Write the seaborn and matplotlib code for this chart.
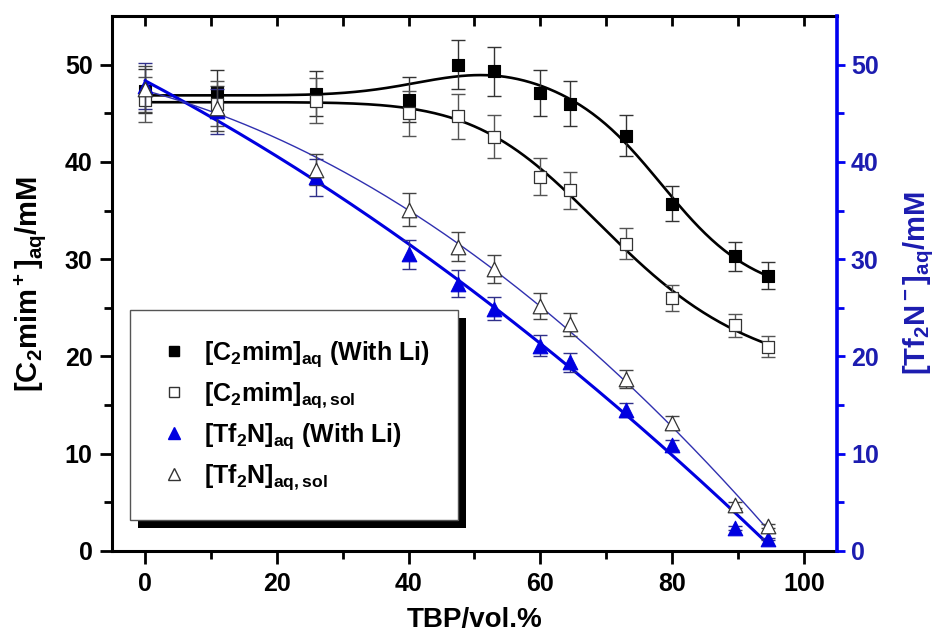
import numpy as np
import matplotlib
matplotlib.use("Agg")
import matplotlib.pyplot as plt
import seaborn as sns
from matplotlib.patches import Rectangle
from matplotlib.lines import Line2D

# ---------------- data ----------------
tbp = [0, 11, 26, 40, 47.5, 53, 60, 64.5, 73, 80, 89.5, 94.5]

c2mim_li = [47.3, 47.1, 47.0, 46.4, 50.0, 49.3, 47.1, 46.0, 42.7, 35.7, 30.3, 28.3]
c2mim_li_err = [2.3, 2.3, 2.3, 2.3, 2.5, 2.5, 2.4, 2.3, 2.1, 1.8, 1.5, 1.4]

c2mim_sol = [46.4, 46.0, 46.3, 45.0, 44.7, 42.6, 38.5, 37.1, 31.6, 26.0, 23.2, 21.0]
c2mim_sol_err = [2.3, 2.3, 2.3, 2.3, 2.3, 2.2, 1.9, 1.9, 1.6, 1.3, 1.2, 1.1]

tf2n_li = [47.8, 45.2, 38.4, 30.5, 27.5, 24.9, 21.1, 19.4, 14.5, 10.9, 2.4, 1.2]
tf2n_li_err = [2.4, 2.3, 1.9, 1.5, 1.4, 1.2, 1.1, 1.0, 0.7, 0.5, 0.2, 0.1]

tf2n_sol = [47.5, 45.5, 39.2, 35.1, 31.3, 29.0, 25.2, 23.3, 17.7, 13.2, 4.7, 2.6]
tf2n_sol_err = [2.4, 2.3, 1.6, 1.7, 1.5, 1.4, 1.3, 1.2, 0.9, 0.7, 0.3, 0.2]

labels = [r'[C$_2$mim]$_{aq}$ (With Li)', r'[C$_2$mim]$_{aq,sol}$',
          r'[Tf$_2$N]$_{aq}$ (With Li)', r'[Tf$_2$N]$_{aq,sol}$']
xlabel = 'TBP/vol.%'
ylabel_left = r'[C$_2$mim$^+$]$_{aq}$/mM'
ylabel_right = r'[Tf$_2$N$^-$]$_{aq}$/mM'

# ---------------- style ----------------
sns.set_style("ticks")
plt.rcParams['font.family'] = ['Liberation Sans', 'DejaVu Sans']
plt.rcParams['font.weight'] = 'bold'
plt.rcParams['mathtext.fontset'] = 'custom'
plt.rcParams['mathtext.rm'] = 'Liberation Sans:bold'
plt.rcParams['mathtext.it'] = 'Liberation Sans:bold'
plt.rcParams['mathtext.bf'] = 'Liberation Sans:bold'
plt.rcParams['mathtext.sf'] = 'Liberation Sans:bold'
plt.rcParams['text.color'] = 'black'
plt.rcParams['axes.labelcolor'] = 'black'
plt.rcParams['xtick.color'] = 'black'
plt.rcParams['ytick.color'] = 'black'
plt.rcParams['axes.edgecolor'] = 'black'

BLUE = '#0000e0'
SPINE_BLUE = '#0000f0'
TEXT_BLUE = '#1c1cb0'
THIN_BLUE = '#3030b0'

fig = plt.figure(figsize=(9.45, 6.42), dpi=100)
ax = fig.add_axes([112/945, 1-551/642, (837-112)/945, (551-16)/642])
ax2 = ax.twinx()

x = np.array(tbp, dtype=float)
xs = np.linspace(0, 94.5, 300)

# ---------------- fitted curves (least squares on the data) ----------------
def sigmoid_bump_fit(xd, yd, bump):
    yd = np.asarray(yd, float)
    x0s = np.linspace(55, 92, 38)
    ps = np.linspace(3, 16, 27)
    if bump:
        mus = np.linspace(46, 58, 7)
        ss = np.linspace(15, 24, 4)
    else:
        mus = np.array([50.0]); ss = np.array([10.0])
    X0, P, MU, S = np.meshgrid(x0s, ps, mus, ss, indexing='ij')
    X0, P, MU, S = X0.ravel(), P.ravel(), MU.ravel(), S.ravel()
    g = 1.0/(1.0+(xd[None, :]/X0[:, None])**P[:, None])
    cols = [g, 1-g]
    if bump:
        cols.append(np.exp(-((xd[None, :]-MU[:, None])/S[:, None])**2))
    A = np.stack(cols, axis=2)
    AtA = np.einsum('nik,nil->nkl', A, A) + 1e-9*np.eye(A.shape[2])
    Aty = np.einsum('nik,i->nk', A, yd)
    coef = np.linalg.solve(AtA, Aty[..., None])[..., 0]
    res = np.sum((np.einsum('nik,nk->ni', A, coef)-yd)**2, axis=1)
    k = np.argmin(res)
    c, x0, p, mu, s = coef[k], X0[k], P[k], MU[k], S[k]
    def f(t):
        gg = 1.0/(1.0+(t/x0)**p)
        out = c[0]*gg + c[1]*(1-gg)
        if bump:
            out = out + c[2]*np.exp(-((t-mu)/s)**2)
        return out
    return f

f_li = sigmoid_bump_fit(x, c2mim_li, True)
f_sol = sigmoid_bump_fit(x, c2mim_sol, False)
c_tli = np.polyfit(x, tf2n_li, 2)
c_tsol = np.polyfit(x, tf2n_sol, 2)

sns.lineplot(x=xs, y=f_li(xs), ax=ax, color='black', linewidth=1.9, sort=False, estimator=None, zorder=2)
sns.lineplot(x=xs, y=f_sol(xs), ax=ax, color='black', linewidth=1.9, sort=False, estimator=None, zorder=2)
sns.lineplot(x=xs, y=np.polyval(c_tli, xs), ax=ax2, color=BLUE, linewidth=2.2, sort=False, estimator=None, zorder=2)
sns.lineplot(x=xs, y=np.polyval(c_tsol, xs), ax=ax2, color=THIN_BLUE, linewidth=1.0, sort=False, estimator=None, zorder=2)

# ---------------- error bars ----------------
ekw = dict(fmt='none', elinewidth=1.0, capsize=5, capthick=1.0, zorder=3)
ax.errorbar(x, c2mim_li, yerr=c2mim_li_err, ecolor='#333333', **ekw)
ax.errorbar(x, c2mim_sol, yerr=c2mim_sol_err, ecolor='#555555', **ekw)
ax2.errorbar(x, tf2n_li, yerr=tf2n_li_err, ecolor='#30308a', **ekw)
ax2.errorbar(x, tf2n_sol, yerr=tf2n_sol_err, ecolor='#444444', **ekw)

# ---------------- markers ----------------
sns.scatterplot(x=x, y=c2mim_li, ax=ax, marker='s', s=80, color='black', edgecolor='black', linewidth=0.8, zorder=4)
sns.scatterplot(x=x, y=c2mim_sol, ax=ax, marker='s', s=70, facecolor='white', edgecolor='#333333', linewidth=0.9, zorder=4)
sns.scatterplot(x=x, y=tf2n_li, ax=ax2, marker='^', s=110, color=BLUE, edgecolor=BLUE, linewidth=0.8, zorder=4)
sns.scatterplot(x=x, y=tf2n_sol, ax=ax2, marker='^', s=110, facecolor='white', edgecolor='#333333', linewidth=0.9, zorder=4)

# ---------------- axes ----------------
for a in (ax, ax2):
    a.set_xlim(-5, 105)
    a.set_ylim(0, 55)

ax.set_xticks(np.arange(0, 101, 20))
ax.set_xticks(np.arange(10, 101, 20), minor=True)
ax.set_yticks(np.arange(0, 51, 10))
ax.set_yticks(np.arange(5, 51, 10), minor=True)
ax2.set_yticks(np.arange(0, 51, 10))
ax2.set_yticks(np.arange(5, 51, 10), minor=True)

TICKFS = 18
ax.tick_params(axis='x', which='major', direction='out', length=9, width=2, labelsize=TICKFS, pad=6, top=False,
               color='black', labelcolor='black')
ax.tick_params(axis='x', which='minor', direction='out', length=6, width=2, top=False, color='black')
ax.tick_params(axis='y', which='major', direction='out', length=9, width=2, labelsize=TICKFS, pad=5,
               color='black', labelcolor='black')
ax.tick_params(axis='y', which='minor', direction='out', length=6, width=2, color='black')

ax2.tick_params(axis='y', which='major', direction='out', length=6, width=2, labelsize=TICKFS, pad=4,
                color=SPINE_BLUE, labelcolor=TEXT_BLUE)
ax2.tick_params(axis='y', which='minor', direction='out', length=5, width=2, color=SPINE_BLUE)

for side in ('left', 'bottom', 'top'):
    ax.spines[side].set_linewidth(2.2)
    ax.spines[side].set_color('black')
for side in ('left', 'bottom', 'top'):
    ax2.spines[side].set_visible(False)
ax.spines['right'].set_visible(False)
ax2.spines['right'].set_linewidth(2.6)
ax2.spines['right'].set_color(SPINE_BLUE)

for lab in ax.get_xticklabels() + ax.get_yticklabels():
    lab.set_fontweight('bold')
for lab in ax2.get_yticklabels():
    lab.set_fontweight('bold')

# inward ticks on the top spine
axt = ax.twiny()
axt.set_xlim(-5, 105)
axt.set_xticks(np.arange(0, 101, 20))
axt.set_xticks(np.arange(10, 101, 20), minor=True)
axt.tick_params(axis='x', which='both', direction='in', length=7, width=2, labeltop=False, top=True, bottom=False,
                color='black')
for s in axt.spines.values():
    s.set_visible(False)

ax.set_xlabel(xlabel, fontsize=20, fontweight='bold', labelpad=8, color='black')
ax.set_ylabel(ylabel_left, fontsize=21, fontweight='bold', labelpad=12, color='black')
ax2.set_ylabel(ylabel_right, fontsize=21, fontweight='bold', color=TEXT_BLUE, labelpad=16)

# ---------------- legend ----------------
handles = [
    Line2D([], [], linestyle='none', marker='s', markersize=6.5, color='black', markeredgecolor='black'),
    Line2D([], [], linestyle='none', marker='s', markersize=6.5, markerfacecolor='white', markeredgecolor='#333333'),
    Line2D([], [], linestyle='none', marker='^', markersize=8.5, color=BLUE, markeredgecolor=BLUE),
    Line2D([], [], linestyle='none', marker='^', markersize=8.5, markerfacecolor='white', markeredgecolor='#333333'),
]
leg = ax2.legend(handles, labels, loc='upper left', bbox_to_anchor=(0.025, 0.45),
                 fontsize=18, frameon=True, fancybox=False, framealpha=1.0, borderpad=1.15,
                 labelspacing=0.45, handletextpad=0.6, handlelength=1.2, borderaxespad=0)
leg.get_frame().set_edgecolor('#555555')
leg.get_frame().set_linewidth(1.0)
leg.get_frame().set_facecolor('white')
leg.set_zorder(10)
for t in leg.get_texts():
    t.set_fontweight('bold')
    t.set_color('black')

fig.canvas.draw()
bb = leg.get_window_extent()
W, H = fig.bbox.width, fig.bbox.height
off = 8
shadow = Rectangle(((bb.x0+off)/W, (bb.y0-off)/H), bb.width/W, bb.height/H,
                   transform=fig.transFigure, facecolor='black', edgecolor='none',
                   zorder=9, clip_on=False)
ax2.add_patch(shadow)

fig.savefig('out.png', dpi=100)
